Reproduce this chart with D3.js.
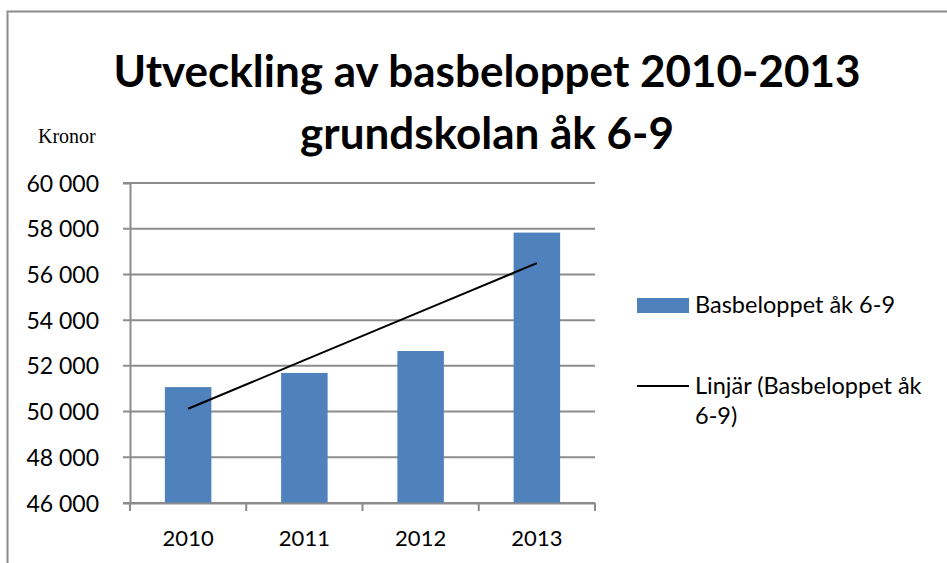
<!DOCTYPE html>
<html>
<head>
<meta charset="utf-8">
<script src="https://cdn.jsdelivr.net/npm/d3@7"></script>
<style>
  body { margin: 0; background: #fff; }
  text { font-family: Lato, "Open Sans", sans-serif; fill: #000; }
</style>
</head>
<body>
<script>
// values
var years = ["2010", "2011", "2012", "2013"];
var values = [51070, 51690, 52650, 57830];
var yTicks = [46000, 48000, 50000, 52000, 54000, 56000, 58000, 60000];
var titleLines = ["Utveckling av basbeloppet 2010-2013", "grundskolan åk 6-9"];
var legendLabels = ["Basbeloppet åk 6-9", "Linjär (Basbeloppet åk", "6-9)"];

var w = 947, h = 563;
var margin = { top: 183, bottom: 60, left: 130, right: 352 };
var width = w - margin.left - margin.right;
var height = h - margin.top - margin.bottom;

var svg = d3.select("body").append("svg")
    .attr("width", w)
    .attr("height", h);

// outer frame
svg.append("rect")
    .attr("x", 7.5).attr("y", 11.5)
    .attr("width", w + 20).attr("height", h + 20)
    .style("fill", "none").style("stroke", "#8c8c8c").style("stroke-width", 2);

// title
svg.selectAll(".title")
    .data(titleLines)
    .enter().append("text")
    .attr("x", 487)
    .attr("y", function(d, i) { return 87 + i * 62; })
    .style("text-anchor", "middle")
    .style("font-size", "44px")
    .style("font-weight", "bold")
    .text(function(d) { return d; });

svg.append("text")
    .attr("x", 38).attr("y", 143)
    .style("font-family", "'Liberation Serif', serif")
    .style("font-size", "20px")
    .text("Kronor");

var chart = svg.append("g")
    .attr("transform", "translate(" + margin.left + "," + margin.top + ")");

var x = d3.scaleBand().domain(years).range([0, width]).paddingInner(0.6).paddingOuter(0.3);
var xOuter = d3.scaleBand().domain(years).range([0, width]);
var y = d3.scaleLinear().domain([46000, 60000]).range([height, 0]);

// gridlines
chart.selectAll(".grid")
    .data(yTicks)
    .enter().append("line")
    .attr("x1", -7).attr("x2", width)
    .attr("y1", function(d) { return y(d); })
    .attr("y2", function(d) { return y(d); })
    .style("stroke", "#8c8c8c").style("stroke-width", 2);

// bars
chart.selectAll(".bar")
    .data(values)
    .enter().append("rect")
    .attr("x", function(d, i) { return x(years[i]); })
    .attr("width", x.bandwidth())
    .attr("y", function(d) { return y(d); })
    .attr("height", function(d) { return height - y(d); })
    .style("fill", "#4f81bd");

// y axis
var yAxis = chart.append("g")
    .call(d3.axisLeft(y).tickValues(yTicks).tickSize(7)
        .tickFormat(function(d) { return d3.format(",")(d).replace(",", " "); }));
yAxis.select(".domain").style("stroke", "#8c8c8c").style("stroke-width", 2);
yAxis.selectAll(".tick line").remove();
yAxis.selectAll("text").style("font-size", "23px").attr("x", -31).attr("dy", "0.35em");

// x axis
var xAxis = chart.append("g")
    .attr("transform", "translate(0," + height + ")")
    .call(d3.axisBottom(xOuter).tickSize(0).tickPadding(27));
xAxis.select(".domain").style("stroke", "#8c8c8c").style("stroke-width", 2);
xAxis.selectAll("text").style("font-size", "22px");

chart.selectAll(".xtick")
    .data(d3.range(years.length + 1))
    .enter().append("line")
    .attr("x1", function(d) { return d * xOuter.step(); })
    .attr("x2", function(d) { return d * xOuter.step(); })
    .attr("y1", height).attr("y2", height + 8)
    .style("stroke", "#8c8c8c").style("stroke-width", 2);

// linear trend line (least squares over the bars)
var n = values.length;
var mx = d3.mean(d3.range(n)), my = d3.mean(values);
var slope = d3.sum(values, function(v, i) { return (i - mx) * (v - my); }) /
            d3.sum(d3.range(n), function(i) { return (i - mx) * (i - mx); });
var trend = years.map(function(yr, i) { return [yr, my + slope * (i - mx)]; });

chart.append("path")
    .datum(trend)
    .attr("d", d3.line()
        .x(function(d) { return x(d[0]) + x.bandwidth() / 2; })
        .y(function(d) { return y(d[1]); }))
    .style("fill", "none").style("stroke", "#000").style("stroke-width", 2);

// legend
var legend = svg.append("g");
legend.append("rect")
    .attr("x", 637).attr("y", 298).attr("width", 52).attr("height", 15)
    .style("fill", "#4f81bd");
legend.append("line")
    .attr("x1", 637).attr("x2", 689).attr("y1", 386).attr("y2", 386)
    .style("stroke", "#000").style("stroke-width", 2);
legend.selectAll(".ltext")
    .data(legendLabels)
    .enter().append("text")
    .attr("x", 695)
    .attr("y", function(d, i) { return [313, 394, 424][i]; })
    .style("font-size", "23.5px")
    .text(function(d) { return d; });
</script>
</body>
</html>
